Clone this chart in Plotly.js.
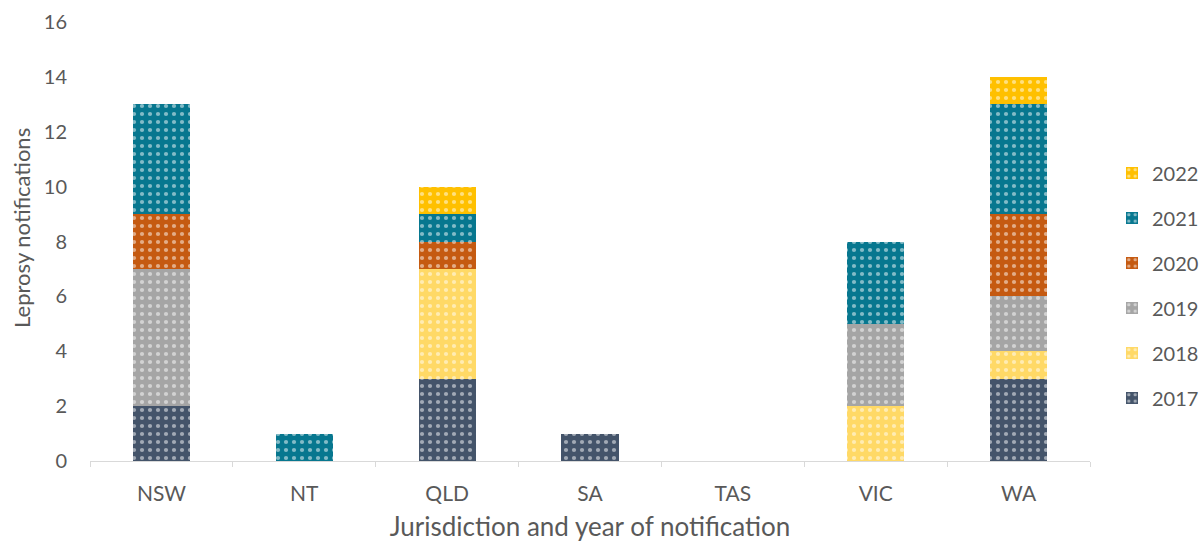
<!DOCTYPE html>
<html><head><meta charset="utf-8">
<script src="https://cdn.plot.ly/plotly-3.0.1.min.js"></script>
<style>body{margin:0}#c{width:1202px;height:542px}</style>
</head><body><div id="c"></div>
<script>
const categories = ['NSW','NT','QLD','SA','TAS','VIC','WA'];
const years = ['2017','2018','2019','2020','2021','2022'];
const v2017 = [2,0,3,1,0,0,3];
const v2018 = [0,0,4,0,0,2,1];
const v2019 = [5,0,0,0,0,3,2];
const v2020 = [2,0,1,0,0,0,3];
const v2021 = [4,1,1,0,0,3,4];
const v2022 = [0,0,1,0,0,0,1];
const series = [v2017,v2018,v2019,v2020,v2021,v2022];
const colors = ['#44546A','#FFD966','#A5A5A5','#C55A11','#07778F','#FFC000'];
const yTitle = 'Leprosy notifications';
const xTitle = 'Jurisdiction and year of notification';

const traces = series.map((vals,i)=>({
  type:'bar', name:years[i], x:categories, y:vals,
  legendrank: 10 - i, legendgroup:'g'+i,
  marker:{color:colors[i], line:{width:0},
    pattern:{shape:'.', fgcolor:'#ffffff', bgcolor:colors[i], size:8, solidity:0.22, fillmode:'overlay'}},
  hoverinfo:'name+y'
}));

const layout = {
  width:1202, height:542,
  margin:{l:90, r:112, t:22, b:81, autoexpand:false},
  paper_bgcolor:'#ffffff', plot_bgcolor:'#ffffff',
  barmode:'stack', bargap:0.6,
  font:{family:'Lato, Open Sans, sans-serif', color:'#595959', size:19},
  xaxis:{
    showgrid:false, zeroline:false, showline:true, linecolor:'#D9D9D9', linewidth:1,
    ticks:'outside', tickson:'boundaries', ticklen:5, tickcolor:'#D9D9D9',
    tickfont:{size:21, color:'#595959'}, ticklabelstandoff:14,
    title:{text:xTitle, font:{size:26, color:'#595959'}, standoff:16}
  },
  yaxis:{
    range:[0,16], dtick:2, showgrid:false, zeroline:false, showline:false,
    tickfont:{size:20, color:'#595959'}, ticks:'', ticklabelstandoff:22
  },
  annotations:[{
    text:yTitle, textangle:-90, xref:'paper', yref:'paper',
    x:-0.068, y:0.531, xanchor:'center', yanchor:'middle', showarrow:false,
    font:{size:22, color:'#595959'}
  }],
  legend:{
    x:1.022, xanchor:'left', y:0.40, yanchor:'middle',
    traceorder:'grouped', tracegroupgap:16,
    font:{size:20, color:'#595959'}, itemwidth:30
  },
  showlegend:true
};
Plotly.newPlot('c', traces, layout, {displayModeBar:false, staticPlot:true});
</script></body></html>
